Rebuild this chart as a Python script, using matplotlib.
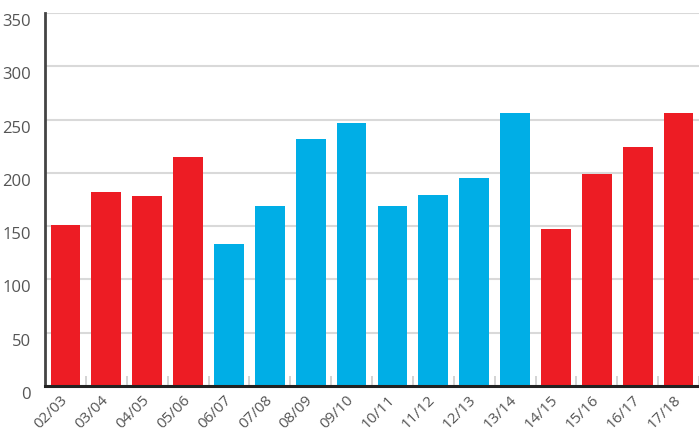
import matplotlib
matplotlib.use("Agg")
import matplotlib.pyplot as plt
import matplotlib.transforms as mtransforms
import numpy as np

seasons = ["02/03", "03/04", "04/05", "05/06", "06/07", "07/08", "08/09", "09/10",
           "10/11", "11/12", "12/13", "13/14", "14/15", "15/16", "16/17", "17/18"]
values = [151, 182, 178, 215, 133, 169, 232, 247, 169, 179, 195, 256, 147, 199, 224, 256]
groups = ["r", "r", "r", "r", "b", "b", "b", "b", "b", "b", "b", "b", "r", "r", "r", "r"]
yticks = [0, 50, 100, 150, 200, 250, 300, 350]

palette = {"r": "#ED1C24", "b": "#00AEE6"}
colors = [palette[g] for g in groups]

plt.rcParams['font.family'] = ['Open Sans', 'DejaVu Sans']

fig = plt.figure(figsize=(6.99, 4.31), dpi=100)
ax = fig.add_axes([45/699, 1-387/431, 654/699, (387-14)/431])

x = np.arange(len(seasons))
ax.bar(x, values, width=0.73, color=colors, zorder=3)

ax.set_xlim(-0.5, len(seasons)-0.5)
ax.set_ylim(0, 350)
ax.set_yticks(yticks)
ax.set_yticklabels([str(v) for v in yticks])
ax.grid(axis='y', color='#d9d9d9', linewidth=1.5, zorder=0)
ax.set_axisbelow(True)

ax.set_xticks(x)
ax.set_xticklabels(seasons, rotation=45, ha='right', va='center', rotation_mode='anchor')
ax.set_xticks(np.arange(len(seasons)) + 0.5, minor=True)
ax.tick_params(axis='x', which='major', length=0, pad=8, labelsize=11, labelcolor='#555555')
ax.tick_params(axis='x', which='minor', direction='in', length=7, width=1.2, color='#cccccc')
ax.tick_params(axis='y', length=0, pad=10, labelsize=12, labelcolor='#555555')

offset = mtransforms.ScaledTranslation(0, -6/100, fig.dpi_scale_trans)
for lab in ax.get_yticklabels():
    lab.set_transform(lab.get_transform() + offset)

for s in ['top', 'right']:
    ax.spines[s].set_visible(False)
ax.spines['left'].set_color('#444444')
ax.spines['left'].set_linewidth(2)
ax.spines['bottom'].set_color('#222222')
ax.spines['bottom'].set_linewidth(2.2)
ax.spines['bottom'].set_zorder(4)

fig.savefig("out.png", dpi=100)
